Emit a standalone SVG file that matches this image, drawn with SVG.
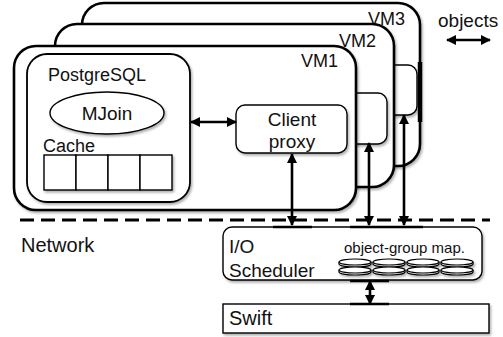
<svg xmlns="http://www.w3.org/2000/svg" width="503" height="337" viewBox="0 0 503 337">
<style>
text{font-family:"Liberation Sans",Arial,sans-serif;fill:#111;}
.vm{fill:#fff;stroke:#000;stroke-width:2.6;}
.box{fill:#fff;stroke:#000;stroke-width:1.8;}
.thin{fill:#fff;stroke:#000;stroke-width:1.4;}
.conn{stroke:#000;stroke-width:2.6;fill:none;}
.bar{stroke:#000;stroke-width:2.6;}
.disc{fill:#fff;stroke:#000;stroke-width:1.2;}
</style>
<defs>
<filter id="sh" x="-10%" y="-10%" width="130%" height="130%">
<feDropShadow dx="1.5" dy="2" stdDeviation="1.2" flood-color="#000" flood-opacity="0.3"/>
</filter>
<marker id="ah" viewBox="0 0 10 10" refX="9" refY="5" markerWidth="10" markerHeight="10" markerUnits="userSpaceOnUse" orient="auto-start-reverse">
<path d="M0,0 L10,5 L0,10 z" fill="#000"/>
</marker>
<g id="disc">
<path class="disc" d="M0,3 A16,3 0 0 1 32,3 V5 A16,3 0 0 1 0,5 Z"/>
<path class="disc" fill="none" d="M0,3 A16,3 0 0 0 32,3"/>
</g>
</defs>
<rect width="503" height="337" fill="#fff"/>

<g id="vm3">
<rect class="vm" x="82" y="3" width="338" height="163" rx="22" filter="url(#sh)"/>
<rect class="thin" x="306" y="65" width="111" height="50" rx="9" filter="url(#sh)"/>
<line x1="420" y1="62" x2="420" y2="122" stroke="#000" stroke-width="4.5"/>
<text x="368" y="25" font-size="18">VM3</text>
</g>

<g id="vm2">
<rect class="vm" x="55" y="24" width="339" height="163" rx="22" filter="url(#sh)"/>
<rect class="thin" x="276" y="93" width="111" height="51" rx="9" filter="url(#sh)"/>
<text x="339" y="47" font-size="18">VM2</text>
</g>

<g id="vm1">
<rect class="vm" x="14" y="46" width="342" height="164" rx="22" filter="url(#sh)"/>
<text x="301" y="67" font-size="18">VM1</text>
</g>

<g id="postgresql">
<rect class="box" x="27" y="54" width="163" height="148" rx="20" filter="url(#sh)"/>
<text x="48" y="81" font-size="18">PostgreSQL</text>
</g>

<g id="mjoin">
<ellipse class="thin" cx="107" cy="113" rx="57" ry="21" filter="url(#sh)"/>
<text x="107" y="120" font-size="19" text-anchor="middle">MJoin</text>
</g>

<g id="cache">
<text x="43" y="152" font-size="18">Cache</text>
<g filter="url(#sh)">
<rect class="thin" x="44" y="155" width="32" height="35"/>
<rect class="thin" x="76" y="155" width="32" height="35"/>
<rect class="thin" x="108" y="155" width="32" height="35"/>
<rect class="thin" x="140" y="155" width="32" height="35"/>
</g>
</g>

<g id="client-proxy">
<rect class="thin" x="236" y="105" width="111" height="48" rx="9" filter="url(#sh)"/>
<text x="292" y="126" font-size="19" text-anchor="middle">Client</text>
<text x="292" y="148" font-size="19" text-anchor="middle">proxy</text>
</g>

<g id="io-scheduler">
<rect class="thin" x="223" y="227" width="259" height="53" rx="9" filter="url(#sh)"/>
<text x="229" y="253" font-size="19">I/O</text>
<text x="229" y="277" font-size="19">Scheduler</text>
<text x="344" y="253" font-size="15">object-group map.</text>
<g filter="url(#sh)">
<use href="#disc" x="339" y="259"/><use href="#disc" x="339" y="267"/>
<use href="#disc" x="373" y="259"/><use href="#disc" x="373" y="267"/>
<use href="#disc" x="407" y="259"/><use href="#disc" x="407" y="267"/>
<use href="#disc" x="441" y="259"/><use href="#disc" x="441" y="267"/>
</g>
</g>

<g id="swift">
<rect class="thin" x="223" y="304" width="266" height="29" filter="url(#sh)"/>
<text x="229" y="325" font-size="20">Swift</text>
</g>

<g id="network">
<text x="21" y="252" font-size="20">Network</text>
</g>

<g id="legend">
<text x="438" y="27" font-size="19">objects</text>
<line class="conn" x1="447" y1="40" x2="490" y2="40" marker-start="url(#ah)" marker-end="url(#ah)"/>
</g>

<g id="connectors">
<line x1="20" y1="220" x2="490" y2="220" stroke="#000" stroke-width="3" stroke-dasharray="14 7"/>
<line class="conn" x1="191" y1="122" x2="236" y2="122" marker-start="url(#ah)" marker-end="url(#ah)"/>
<line class="conn" x1="292" y1="154" x2="292" y2="225" marker-start="url(#ah)" marker-end="url(#ah)"/>
<line class="conn" x1="369" y1="143" x2="369" y2="225" marker-start="url(#ah)" marker-end="url(#ah)"/>
<line class="conn" x1="404" y1="115" x2="404" y2="225" marker-start="url(#ah)" marker-end="url(#ah)"/>
<line class="conn" x1="370" y1="281" x2="370" y2="304" marker-start="url(#ah)" marker-end="url(#ah)"/>
<line class="bar" x1="273" y1="227" x2="312" y2="227"/>
<line class="bar" x1="350" y1="227" x2="423" y2="227"/>
<line class="bar" x1="350" y1="281" x2="389" y2="281"/>
<line class="bar" x1="350" y1="304" x2="389" y2="304"/>
</g>
</svg>
